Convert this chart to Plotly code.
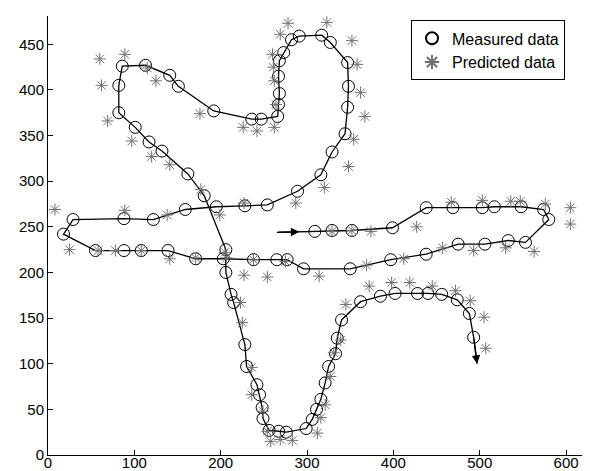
import plotly.graph_objects as go

# Measured trajectory (in travel order)
meas_x = [309, 329, 352, 399, 438, 469, 503, 517, 548, 574, 580, 553, 533, 506, 475, 438,
          397, 350, 296, 277, 265, 238, 203, 171, 139, 108, 88, 55, 18, 29, 88, 122, 159,
          195, 228, 254, 289, 316, 329, 344, 347, 348, 347, 327, 317, 291, 282, 273, 268,
          267, 268, 267, 266, 247, 236, 192, 151, 141, 113, 86, 82, 82, 101, 117, 132, 162,
          181, 206, 206, 212, 215, 228, 230, 242, 245, 248, 249, 256, 267, 276, 299, 306,
          311, 316, 321, 325, 333, 335, 340, 362, 385, 402, 428, 440, 456, 474, 488, 493]
meas_y = [245, 246, 246, 249, 271, 271, 271, 272, 272, 269, 258, 233, 235, 231, 231, 220,
          214, 204, 204, 214, 214, 214, 215, 215, 224, 224, 224, 224, 242, 258, 259, 258, 269,
          272, 273, 274, 289, 307, 332, 352, 381, 404, 430, 452, 460, 459, 455, 441, 432,
          415, 396, 384, 371, 368, 368, 377, 404, 416, 427, 426, 405, 375, 359, 343, 333, 308,
          284, 225, 200, 176, 167, 121, 97, 77, 66, 52, 40, 27, 26, 25, 29, 39,
          50, 61, 79, 97, 111, 128, 148, 168, 174, 177, 177, 177, 176, 170, 155, 129]

# Start and end of the path (arrow positions)
start_x, start_y = [265, 291], [244, 244.5]
end_x, end_y = [493, 497], [129, 100]

# Predicted data
pred_x = [8, 60, 62, 89, 69, 125, 115, 176, 97, 120, 141, 177, 89, 138, 199, 227, 287, 320,
          348, 226, 242, 262, 278, 269, 260, 261, 262, 264, 323, 352, 358, 362, 367, 354,
          467, 503, 536, 547, 576, 605, 605, 427, 329, 352, 374, 412, 369, 275, 238, 207,
          171, 141, 108, 78, 58, 25, 227, 254, 314, 372, 398, 419, 445, 472, 489, 505, 507,
          457, 493, 530, 563, 223, 225, 236, 236, 249, 254, 258, 269, 283, 312, 316, 321,
          327, 331, 339, 345, 205]
pred_y = [269, 434, 405, 439, 366, 410, 424, 374, 344, 327, 318, 291, 268, 263, 263, 276, 276, 293,
          316, 359, 355, 359, 473, 461, 439, 425, 410, 384, 474, 454, 428, 397, 371, 346,
          277, 279, 278, 278, 275, 271, 253, 250, 245, 246, 245, 215, 208, 212, 214, 216,
          216, 215, 224, 224, 224, 225, 197, 195, 196, 185, 189, 189, 185, 180, 169, 151, 117,
          227, 224, 227, 223, 167, 145, 96, 66, 48, 26, 15, 17, 16, 24, 41, 55,
          86, 112, 126, 165, 222]

x_ticks = [0, 100, 200, 300, 400, 500, 600]
y_ticks = [0, 50, 100, 150, 200, 250, 300, 350, 400, 450]

FONT = "Liberation Sans, Arial, sans-serif"

fig = go.Figure()

# path line (start segment + measured + end segment)
fig.add_trace(go.Scatter(
    x=start_x + meas_x + end_x[1:], y=start_y + meas_y + end_y[1:],
    mode="lines", line=dict(color="black", width=1.3),
    showlegend=False, hoverinfo="skip"))

fig.add_trace(go.Scatter(
    x=meas_x, y=meas_y, mode="markers", name="Measured data",
    marker=dict(symbol="circle-open", size=12, color="black", line=dict(width=1))))

fig.add_trace(go.Scatter(
    x=pred_x, y=pred_y, mode="markers", name="Predicted data",
    marker=dict(symbol="asterisk-open", size=10, color="#707070", line=dict(width=1, color="#707070"))))

# arrows
fig.add_annotation(x=start_x[1], y=start_y[1], ax=start_x[0], ay=start_y[0],
                   xref="x", yref="y", axref="x", ayref="y", text="",
                   showarrow=True, arrowhead=2, arrowsize=1.2, arrowwidth=1.4, arrowcolor="black")
fig.add_annotation(x=end_x[1], y=end_y[1], ax=end_x[0], ay=end_y[0],
                   xref="x", yref="y", axref="x", ayref="y", text="",
                   showarrow=True, arrowhead=2, arrowsize=1.2, arrowwidth=1.4, arrowcolor="black")

fig.update_layout(
    width=590, height=471,
    margin=dict(l=40, r=0, t=8, b=24),
    paper_bgcolor="white", plot_bgcolor="white",
    font=dict(family=FONT, size=15, color="black"),
    legend=dict(x=0.66, y=0.99, xanchor="left", yanchor="top",
                bgcolor="white", bordercolor="black", borderwidth=1,
                font=dict(family=FONT, size=16), tracegroupgap=0,
                itemsizing="constant", itemwidth=30),
)
fig.update_xaxes(range=[0, 637], tickvals=x_ticks, ticks="inside", ticklen=5,
                 tickcolor="black", showline=True, linecolor="black", linewidth=1,
                 showgrid=False, zeroline=False, tickfont=dict(size=15),
                 ticklabelstandoff=-6)
fig.update_yaxes(range=[0, 481], tickvals=y_ticks, ticks="inside", ticklen=5,
                 tickcolor="black", showline=True, linecolor="black", linewidth=1,
                 showgrid=False, zeroline=False, tickfont=dict(size=15))

fig.write_html("out.html")
